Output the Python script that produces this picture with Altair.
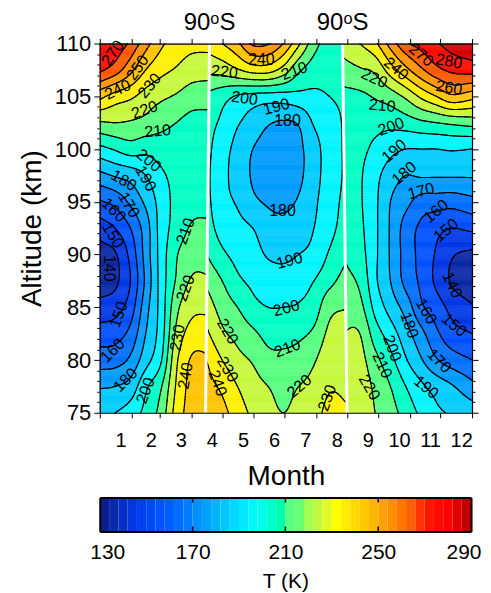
import json
import numpy as np
import pandas as pd
import altair as alt

alt.data_transformers.disable_max_rows()

# ---------------- values ----------------
ALTITUDES = [110, 107.5, 105, 102.5, 100, 97.5, 95, 92.5, 90, 87.5, 85, 82.5, 80, 77.5, 75]

# part left of the first 90S line
A_DAYS = [0, 15, 30, 45, 60, 75, 90, 108]
A_TEMPS = [
    [280, 277, 268, 254, 242, 236, 233, 233],
    [272, 265, 253, 240, 233, 229, 225, 224],
    [243, 236, 232, 226, 222, 219, 215, 214],
    [219, 220, 219, 217, 213, 210, 207, 207],
    [197, 201, 205, 203, 205, 206, 205, 205],
    [177, 181, 184, 190, 198, 203, 204, 204],
    [159, 163, 172, 182, 194, 203, 207, 207],
    [145, 150, 160, 175, 194, 204, 211, 212],
    [136, 139, 153, 174, 194, 209, 216, 217],
    [136, 138, 150, 172, 194, 211, 221, 221],
    [143, 146, 155, 176, 194, 217, 227, 228],
    [155, 156, 163, 180, 195, 222, 234, 235],
    [165, 166, 172, 186, 199, 228, 241, 241],
    [179, 180, 184, 198, 209, 231, 243, 244],
    [188, 190, 195, 203, 214, 234, 244, 246],
]

# part between the two 90S lines
B_DAYS = [103, 120, 135, 150, 165, 180, 195, 210, 225, 243]
B_TEMPS = [
    [233, 240, 248, 262, 261, 250, 232, 214, 206, 205],
    [222, 224, 229, 234, 234, 226, 212, 205, 203, 203],
    [209, 204, 199, 197, 196, 196, 197, 198, 200, 202],
    [205, 198, 191, 186, 181, 179, 181, 191, 196, 202],
    [204, 194, 187, 180, 177, 176, 178, 186, 195, 202],
    [203, 193, 186, 179, 176, 175, 178, 186, 195, 202],
    [204, 193, 189, 182, 179, 178, 181, 188, 196, 203],
    [206, 196, 193, 190, 184, 183, 185, 190, 197, 205],
    [211, 202, 197, 194, 189, 188, 190, 193, 201, 209],
    [219, 210, 202, 198, 195, 194, 196, 200, 207, 215],
    [226, 216, 210, 203, 200, 200, 201, 205, 217, 220],
    [233, 222, 217, 212, 207, 207, 208, 212, 222, 223],
    [241, 230, 223, 219, 213, 212, 214, 219, 226, 225],
    [244, 238, 230, 224, 220, 217, 220, 223, 229, 228],
    [247, 243, 235, 228, 223, 220, 223, 226, 233, 231],
]

# part right of the second 90S line
C_DAYS = [238, 255, 270, 285, 300, 315, 330, 345, 365]
C_TEMPS = [
    [224, 230, 238, 254, 268, 274, 279, 284, 287],
    [216, 219, 222, 235, 247, 258, 267, 272, 274],
    [207, 208, 211, 215, 222, 232, 240, 248, 244],
    [204, 203, 203, 203, 205, 208, 210, 212, 214],
    [203, 202, 198, 193, 190, 190, 190, 191, 190],
    [203, 201, 193, 185, 180, 181, 181, 181, 181],
    [204, 201, 192, 180, 173, 166, 165, 164, 167],
    [206, 202, 192, 179, 166, 158, 153, 150, 152],
    [210, 204, 192, 179, 166, 157, 149, 141, 138],
    [213, 208, 192, 180, 167, 158, 148, 139, 134],
    [217, 213, 197, 186, 176, 162, 155, 147, 141],
    [220, 220, 205, 195, 184, 173, 162, 154, 150],
    [222, 223, 213, 203, 191, 181, 171, 165, 160],
    [224, 225, 218, 210, 200, 192, 186, 181, 173],
    [226, 226, 220, 214, 206, 198, 192, 189, 186],
]

SEAM_TOP_DAYS = [107.6, 238.1]      # white 90S lines at 110 km
SEAM_BOTTOM_DAYS = [103.7, 242.4]   # and at 75 km
SEAM_LABEL = "90ᵒS"

MONTH_EDGES = [0, 31, 59, 90, 120, 151, 181, 212, 243, 273, 304, 334, 365]
MONTH_LABELS = ["1", "2", "3", "4", "5", "6", "7", "8", "9", "10", "11", "12"]
MAJOR_ALTS = [75, 80, 85, 90, 95, 100, 105, 110]
MINOR_ALTS = [a for a in range(75, 111) if a % 5 != 0]
LEVELS = list(range(140, 290, 10))

CB_LABELS = [130, 170, 210, 250, 290]
CB_TICKS = [170, 210, 250]
CB_STEP = 4

COLOR_STOPS = [130, 135, 145, 155, 165, 175, 185, 195, 200, 205, 209.99, 210, 215,
               220, 225, 232, 240, 245, 255, 265, 270, 280, 285, 290]
COLOR_RANGE = ["#0a1a80", "#0a28a6", "#0038e6", "#0050ff", "#0070ff", "#009cff",
               "#00ccff", "#00f4ff", "#00ffe6", "#00ffc4", "#00ff9c", "#58ff80",
               "#58ff80", "#a0ff50", "#c8f83c", "#ffff00", "#ffd800", "#ffc400",
               "#ff9400", "#ff5a00", "#ff1a00", "#ff0000", "#d80000", "#b00000"]

# contour labels: day, altitude, text, rotation
CONTOUR_LABELS = [
    (12.7, 109.1, "270", 305), (37.2, 107.7, "250", 305), (17.6, 105.6, "240", 335),
    (48.9, 106.0, "230", 310), (44.0, 103.7, "220", 340), (56.8, 101.7, "210", 355),
    (48.0, 98.9, "200", 40), (45.0, 97.2, "190", 60), (23.5, 97.0, "180", 30),
    (28.4, 94.7, "170", 60), (13.7, 94.2, "160", 45), (12.7, 91.8, "150", 60),
    (8.8, 88.7, "140", 90), (18.6, 84.3, "150", 290), (12.7, 80.9, "160", 315),
    (25.4, 78.1, "180", 315), (45.0, 77.1, "200", 290), (84.2, 92.2, "210", 290),
    (84.2, 86.8, "220", 290), (76.3, 82.1, "230", 280), (84.2, 78.5, "240", 280),
    (122.3, 107.3, "220", 5), (158.5, 108.4, "240", 0), (190.8, 107.4, "210", 340),
    (141.9, 104.8, "200", 8), (173.2, 104.0, "190", 345), (184.0, 102.7, "180", 0),
    (179.1, 94.1, "180", 0), (186.0, 89.4, "190", 345), (183.0, 84.9, "200", 345),
    (184.0, 81.1, "210", 340), (195.7, 77.5, "220", 320), (223.1, 76.4, "230", 290),
    (115.5, 77.8, "240", 70), (125.3, 79.1, "230", 60), (125.3, 82.7, "220", 60),
    (269.1, 106.7, "220", 25), (290.6, 107.6, "240", 40), (315.1, 108.9, "270", 40),
    (342.5, 108.3, "280", 10), (342.5, 105.8, "260", 10), (276.9, 104.1, "210", 5),
    (285.7, 102.1, "200", 340), (288.7, 99.8, "190", 320), (298.5, 97.7, "180", 320),
    (315.1, 96.0, "170", 345), (329.8, 94.1, "160", 320), (339.6, 92.3, "150", 320),
    (345.4, 87.1, "140", 65), (347.4, 83.3, "150", 40), (320.0, 84.6, "160", 60),
    (332.7, 79.9, "170", 45), (303.4, 83.3, "180", 70), (320.0, 77.4, "190", 40),
    (286.7, 81.1, "200", 70), (276.9, 79.5, "210", 65), (264.2, 77.4, "220", 60),
]

FONT = "Liberation Sans"

# ---------------- field reconstruction (smooth curves through the read grid) ----------------
ALT_ASC = np.array(ALTITUDES[::-1], float)


def hermite(xk, Y, xq):
    xk = np.asarray(xk, float)
    Y = np.asarray(Y, float)
    xq = np.clip(np.asarray(xq, float), xk[0], xk[-1])
    M = np.empty_like(Y)
    M[1:-1] = (Y[2:] - Y[:-2]) / (xk[2:] - xk[:-2])[:, None]
    M[0] = (Y[1] - Y[0]) / (xk[1] - xk[0])
    M[-1] = (Y[-1] - Y[-2]) / (xk[-1] - xk[-2])
    i = np.clip(np.searchsorted(xk, xq, side="right") - 1, 0, len(xk) - 2)
    h = (xk[i + 1] - xk[i])[:, None]
    t = ((xq - xk[i]) / (xk[i + 1] - xk[i]))[:, None]
    t2, t3 = t * t, t * t * t
    return ((2 * t3 - 3 * t2 + 1) * Y[i] + (t3 - 2 * t2 + t) * h * M[i]
            + (-2 * t3 + 3 * t2) * Y[i + 1] + (t3 - t2) * h * M[i + 1])


def field(days, temps, xq, yq):
    T = np.array(temps, float)[::-1]
    G = hermite(ALT_ASC, T, yq)
    H = hermite(np.array(days, float), G.T, xq)
    return H.T


def seam(k, y):
    return SEAM_BOTTOM_DAYS[k] + (np.asarray(y) - 75.0) / 35.0 * (SEAM_TOP_DAYS[k] - SEAM_BOTTOM_DAYS[k])


SEGMENTS = [(A_DAYS, A_TEMPS), (B_DAYS, B_TEMPS), (C_DAYS, C_TEMPS)]

# filled bands
xe = np.arange(0, 366, 1.0)
xc = xe[:-1] + 0.5
ye = np.round(np.linspace(75, 110, 351), 4)
yc = (ye[:-1] + ye[1:]) / 2
FA, FB, FC = [field(d, t, xc, yc) for d, t in SEGMENTS]
XX = xc[None, :]
F = np.where(XX < seam(0, yc)[:, None], FA, np.where(XX < seam(1, yc)[:, None], FB, FC))
band = np.clip(np.floor(F / 10.0) * 10.0, 130, 280)
fill_rows = []
for j in range(len(yc)):
    r = band[j]
    cuts = np.flatnonzero(np.diff(r) != 0) + 1
    starts = np.r_[0, cuts]
    ends = np.r_[cuts, len(r)]
    for s, e in zip(starts, ends):
        fill_rows.append((xe[s], xe[e], ye[j], ye[j + 1], r[s] + 5))
fill_df = pd.DataFrame(fill_rows, columns=["x0", "x1", "y0", "y1", "t"])


# contour lines (marching squares)
def level_segments(xs, ys, G, lev):
    out = []
    A = G >= lev
    v00, v01, v10, v11 = G[:-1, :-1], G[:-1, 1:], G[1:, :-1], G[1:, 1:]
    a00, a01, a10, a11 = A[:-1, :-1], A[:-1, 1:], A[1:, :-1], A[1:, 1:]
    cells = np.argwhere(~((a00 == a01) & (a00 == a10) & (a00 == a11)))
    for j, i in cells:
        x0, x1, y0, y1 = xs[i], xs[i + 1], ys[j], ys[j + 1]
        q00, q01, q10, q11 = v00[j, i], v01[j, i], v10[j, i], v11[j, i]
        p = {}
        if a00[j, i] != a01[j, i]:
            p["b"] = (x0 + (lev - q00) / (q01 - q00) * (x1 - x0), y0)
        if a01[j, i] != a11[j, i]:
            p["r"] = (x1, y0 + (lev - q01) / (q11 - q01) * (y1 - y0))
        if a10[j, i] != a11[j, i]:
            p["t"] = (x0 + (lev - q10) / (q11 - q10) * (x1 - x0), y1)
        if a00[j, i] != a10[j, i]:
            p["l"] = (x0, y0 + (lev - q00) / (q10 - q00) * (y1 - y0))
        if len(p) == 2:
            a, b = list(p.values())
            out.append((a, b))
        elif len(p) == 4:
            c = (q00 + q01 + q10 + q11) / 4 >= lev
            if c == a00[j, i]:
                out += [(p["b"], p["r"]), (p["t"], p["l"])]
            else:
                out += [(p["b"], p["l"]), (p["r"], p["t"])]
    return out


line_rows = []
ys_l = np.linspace(75, 110, 141)
for k, (days, temps) in enumerate(SEGMENTS):
    lo, hi = days[0], days[-1]
    xs_l = np.linspace(lo, hi, int((hi - lo) / 1.5) + 1)
    G = field(days, temps, xs_l, ys_l)
    for lev in LEVELS:
        for (ax, ay), (bx, by) in level_segments(xs_l, ys_l, G, lev):
            mx, my = (ax + bx) / 2, (ay + by) / 2
            left = seam(0, my)
            right = seam(1, my)
            keep = (k == 0 and mx <= left) or (k == 1 and left <= mx <= right) or (k == 2 and mx >= right)
            if keep:
                line_rows.append((round(ax, 3), round(ay, 4), round(bx, 3), round(by, 4)))
line_df = pd.DataFrame(line_rows, columns=["x", "y", "x2", "y2"])

seam_df = pd.DataFrame({"top": SEAM_TOP_DAYS, "bottom": SEAM_BOTTOM_DAYS,
                        "ytop": [110, 110], "ybot": [75, 75], "lab": [SEAM_LABEL] * 2})
label_df = pd.DataFrame(CONTOUR_LABELS, columns=["day", "alt", "text", "angle"])

MONTH_MIDS = [(a + b) / 2 for a, b in zip(MONTH_EDGES[:-1], MONTH_EDGES[1:])]
month_expr = f"{json.dumps(MONTH_LABELS)}[indexof({json.dumps(MONTH_MIDS)}, datum.value)]"

# ---------------- chart ----------------
xsc = alt.Scale(domain=[0, 365], nice=False, zero=False)
ysc = alt.Scale(domain=[75, 110], nice=False, zero=False)
csc = alt.Scale(domain=COLOR_STOPS, range=COLOR_RANGE, interpolate="rgb")

frame = dict(domain=True, domainColor="black", domainWidth=1.2, zindex=1, grid=False,
             tickColor="black", labels=False, title=None)

fill = alt.Chart(fill_df).mark_rect(strokeWidth=0.5).encode(
    x=alt.X("x0:Q", scale=xsc, axis=alt.Axis(orient="bottom", values=MONTH_EDGES, tickSize=5, **frame)),
    x2="x1:Q",
    y=alt.Y("y0:Q", scale=ysc, axis=alt.Axis(
        orient="left", values=MAJOR_ALTS, tickSize=6, tickColor="black", domain=True,
        domainColor="black", domainWidth=1.2, zindex=1, grid=False,
        labelFontSize=22, labelPadding=3, labelColor="black", labelFont=FONT,
        title="Altitude (km)", titleFontSize=28, titleFontWeight="normal",
        titleColor="black", titleFont=FONT, titlePadding=8)),
    y2="y1:Q",
    fill=alt.Fill("t:Q", scale=csc, legend=None),
    stroke=alt.Stroke("t:Q", scale=csc, legend=None),
)

lines = alt.Chart(line_df).mark_rule(color="black", strokeWidth=1.15, strokeCap="round").encode(
    x=alt.X("x:Q", scale=xsc, axis=alt.Axis(
        orient="bottom", values=MONTH_MIDS, labelExpr=month_expr, ticks=False, tickSize=0,
        domain=False, grid=False, labelFontSize=20, labelPadding=18, labelOffset=5,
        labelFlush=False, labelOverlap=False, labelColor="black", labelFont=FONT,
        title="Month", titleFontSize=28, titleFontWeight="normal", titleColor="black",
        titleFont=FONT, titlePadding=12)),
    x2="x2:Q",
    y=alt.Y("y:Q", scale=ysc, axis=alt.Axis(orient="left", values=MINOR_ALTS, tickSize=3,
                                             tickColor="black", labels=False, domain=False,
                                             grid=False, title=None)),
    y2="y2:Q",
)

seams = alt.Chart(seam_df).mark_rule(color="white", strokeWidth=3).encode(
    x=alt.X("top:Q", scale=xsc, axis=alt.Axis(orient="top", values=MONTH_EDGES, tickSize=5, **frame)),
    x2="bottom:Q",
    y=alt.Y("ytop:Q", scale=ysc, axis=alt.Axis(orient="right", values=MAJOR_ALTS, tickSize=6, **frame)),
    y2="ybot:Q",
)

clabels = alt.Chart(label_df).mark_text(fontSize=16, color="black", font=FONT).encode(
    x=alt.X("day:Q", scale=xsc, axis=None),
    y=alt.Y("alt:Q", scale=ysc, axis=alt.Axis(orient="right", values=MINOR_ALTS, tickSize=3,
                                               tickColor="black", labels=False, domain=False,
                                               grid=False, title=None)),
    text="text:N",
    angle=alt.Angle("angle:Q", scale=None),
)

top_text = alt.Chart(seam_df).mark_text(fontSize=24, font=FONT, color="black", baseline="middle").encode(
    x=alt.X("top:Q", scale=xsc, axis=None),
    y=alt.value(-21),
    text="lab:N",
)

main = alt.layer(fill, lines, seams, clabels, top_text).resolve_axis(
    x="independent", y="independent").properties(width=373, height=370)

# colour bar
cb_lo = list(range(CB_LABELS[0], CB_LABELS[-1], CB_STEP))
cb_df = pd.DataFrame({"lo": cb_lo, "hi": [v + CB_STEP for v in cb_lo],
                      "t": [v + CB_STEP / 2 for v in cb_lo], "y0": 0.0, "y1": 1.0})
tick_len = 5 / 34
cbt_df = pd.DataFrame({"v": CB_TICKS, "b0": 0.0, "b1": tick_len, "t0": 1 - tick_len, "t1": 1.0})
cbx = alt.Scale(domain=[CB_LABELS[0], CB_LABELS[-1]], nice=False, zero=False)
cby = alt.Scale(domain=[0, 1], nice=False, zero=False)
box = dict(domain=True, domainColor="black", domainWidth=2, zindex=1, grid=False,
           ticks=False, labels=False, title=None)

cb = alt.Chart(cb_df).mark_rect().encode(
    x=alt.X("lo:Q", scale=cbx, axis=alt.Axis(
        orient="bottom", values=CB_LABELS, ticks=False, tickSize=0, domain=True,
        domainColor="black", domainWidth=2, zindex=1, grid=False, labelFontSize=21,
        labelPadding=10, labelFlush=True, labelFlushOffset=10, labelColor="black",
        labelFont=FONT, title="T (K)", titleFontSize=21, titleFontWeight="normal",
        titleColor="black", titleFont=FONT, titlePadding=8)),
    x2="hi:Q",
    y=alt.Y("y0:Q", scale=cby, axis=alt.Axis(orient="left", **box)),
    y2="y1:Q",
    fill=alt.Fill("t:Q", scale=csc, legend=None),
)
cbt1 = alt.Chart(cbt_df).mark_rule(color="black", strokeWidth=1.5).encode(
    x=alt.X("v:Q", scale=cbx, axis=alt.Axis(orient="top", **box)),
    y=alt.Y("b0:Q", scale=cby, axis=alt.Axis(orient="right", **box)),
    y2="b1:Q",
)
cbt2 = alt.Chart(cbt_df).mark_rule(color="black", strokeWidth=1.5).encode(
    x=alt.X("v:Q", scale=cbx, axis=None),
    y=alt.Y("t0:Q", scale=cby, axis=None),
    y2="t1:Q",
)
cbar = alt.layer(cb, cbt1, cbt2).resolve_axis(x="independent", y="independent").properties(
    width=372, height=34)

chart = alt.vconcat(main, cbar, spacing=6).properties(
    padding={"left": 10, "top": 2, "right": 2, "bottom": 2}
).configure(font=FONT).configure_view(strokeWidth=0)

chart.save("out.html", embed_options={"renderer": "svg", "actions": False})
